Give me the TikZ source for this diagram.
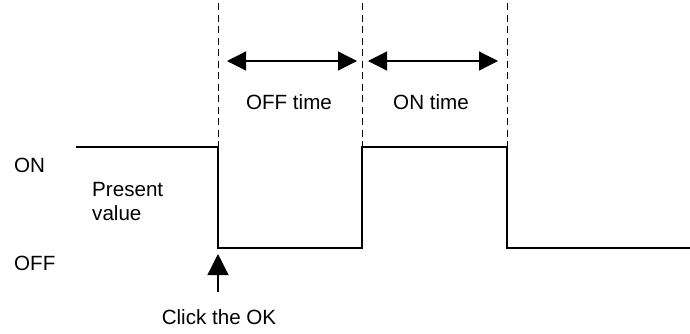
\documentclass[tikz,border=0pt]{standalone}
\usepackage{fontspec}
\setmainfont{Liberation Sans}
\usetikzlibrary{arrows.meta}
\begin{document}
\begin{tikzpicture}[x=1pt,y=-1pt,
  wave/.style={line width=1.7pt,line cap=butt,line join=miter},
  guide/.style={line width=0.9pt,dash pattern=on 7pt off 4.5pt},
  span/.style={line width=1.2pt,{Triangle[length=19pt,width=19pt]}-{Triangle[length=19pt,width=19pt]}},
  push/.style={line width=1.2pt,-{Triangle[length=21pt,width=21pt]}},
  lbl/.style={inner sep=0pt,font=\fontsize{20.6}{24}\selectfont}]
\useasboundingbox (0,0) rectangle (690,333);
% waveform coordinates
\coordinate (w0) at (76,147);
\coordinate (w1) at (218,147);
\coordinate (w2) at (218,248);
\coordinate (w3) at (362,248);
\coordinate (w4) at (362,147);
\coordinate (w5) at (507,147);
\coordinate (w6) at (507,248);
\coordinate (w7) at (690,248);
% guide tops
\coordinate (g1) at (218,3);
\coordinate (g2) at (362,3);
\coordinate (g3) at (507,3);
\draw[guide] (g1) -- (w1);
\draw[guide] (g2) -- (w4);
\draw[guide] (g3) -- (w5);
\draw[wave] (w0) -- (w1) -- (w2) -- (w3) -- (w4) -- (w5) -- (w6) -- (w7);
% span arrows
\coordinate (a1) at (227,61);
\coordinate (a2) at (357,61);
\coordinate (a3) at (368,61);
\coordinate (a4) at (498,61);
\draw[span] (a1) -- (a2);
\draw[span] (a3) -- (a4);
% labels
\node[lbl,anchor=base] (offt) at (289,109) {OFF time};
\node[lbl,anchor=base] (ont) at (431,109) {ON time};
\node[lbl,anchor=base west] (on) at (14,172) {ON};
\node[lbl,anchor=base west] (off) at (14,270) {OFF};
\node[lbl,anchor=base west] (pv1) at (92,196) {Present};
\node[lbl,anchor=base west] (pv2) at (92,220) {value};
\node[lbl,anchor=base] (click) at (219,324) {Click the OK};
% push arrow
\coordinate (p0) at (218,292);
\coordinate (p1) at (218,254);
\draw[push] (p0) -- (p1);
\end{tikzpicture}
\end{document}
